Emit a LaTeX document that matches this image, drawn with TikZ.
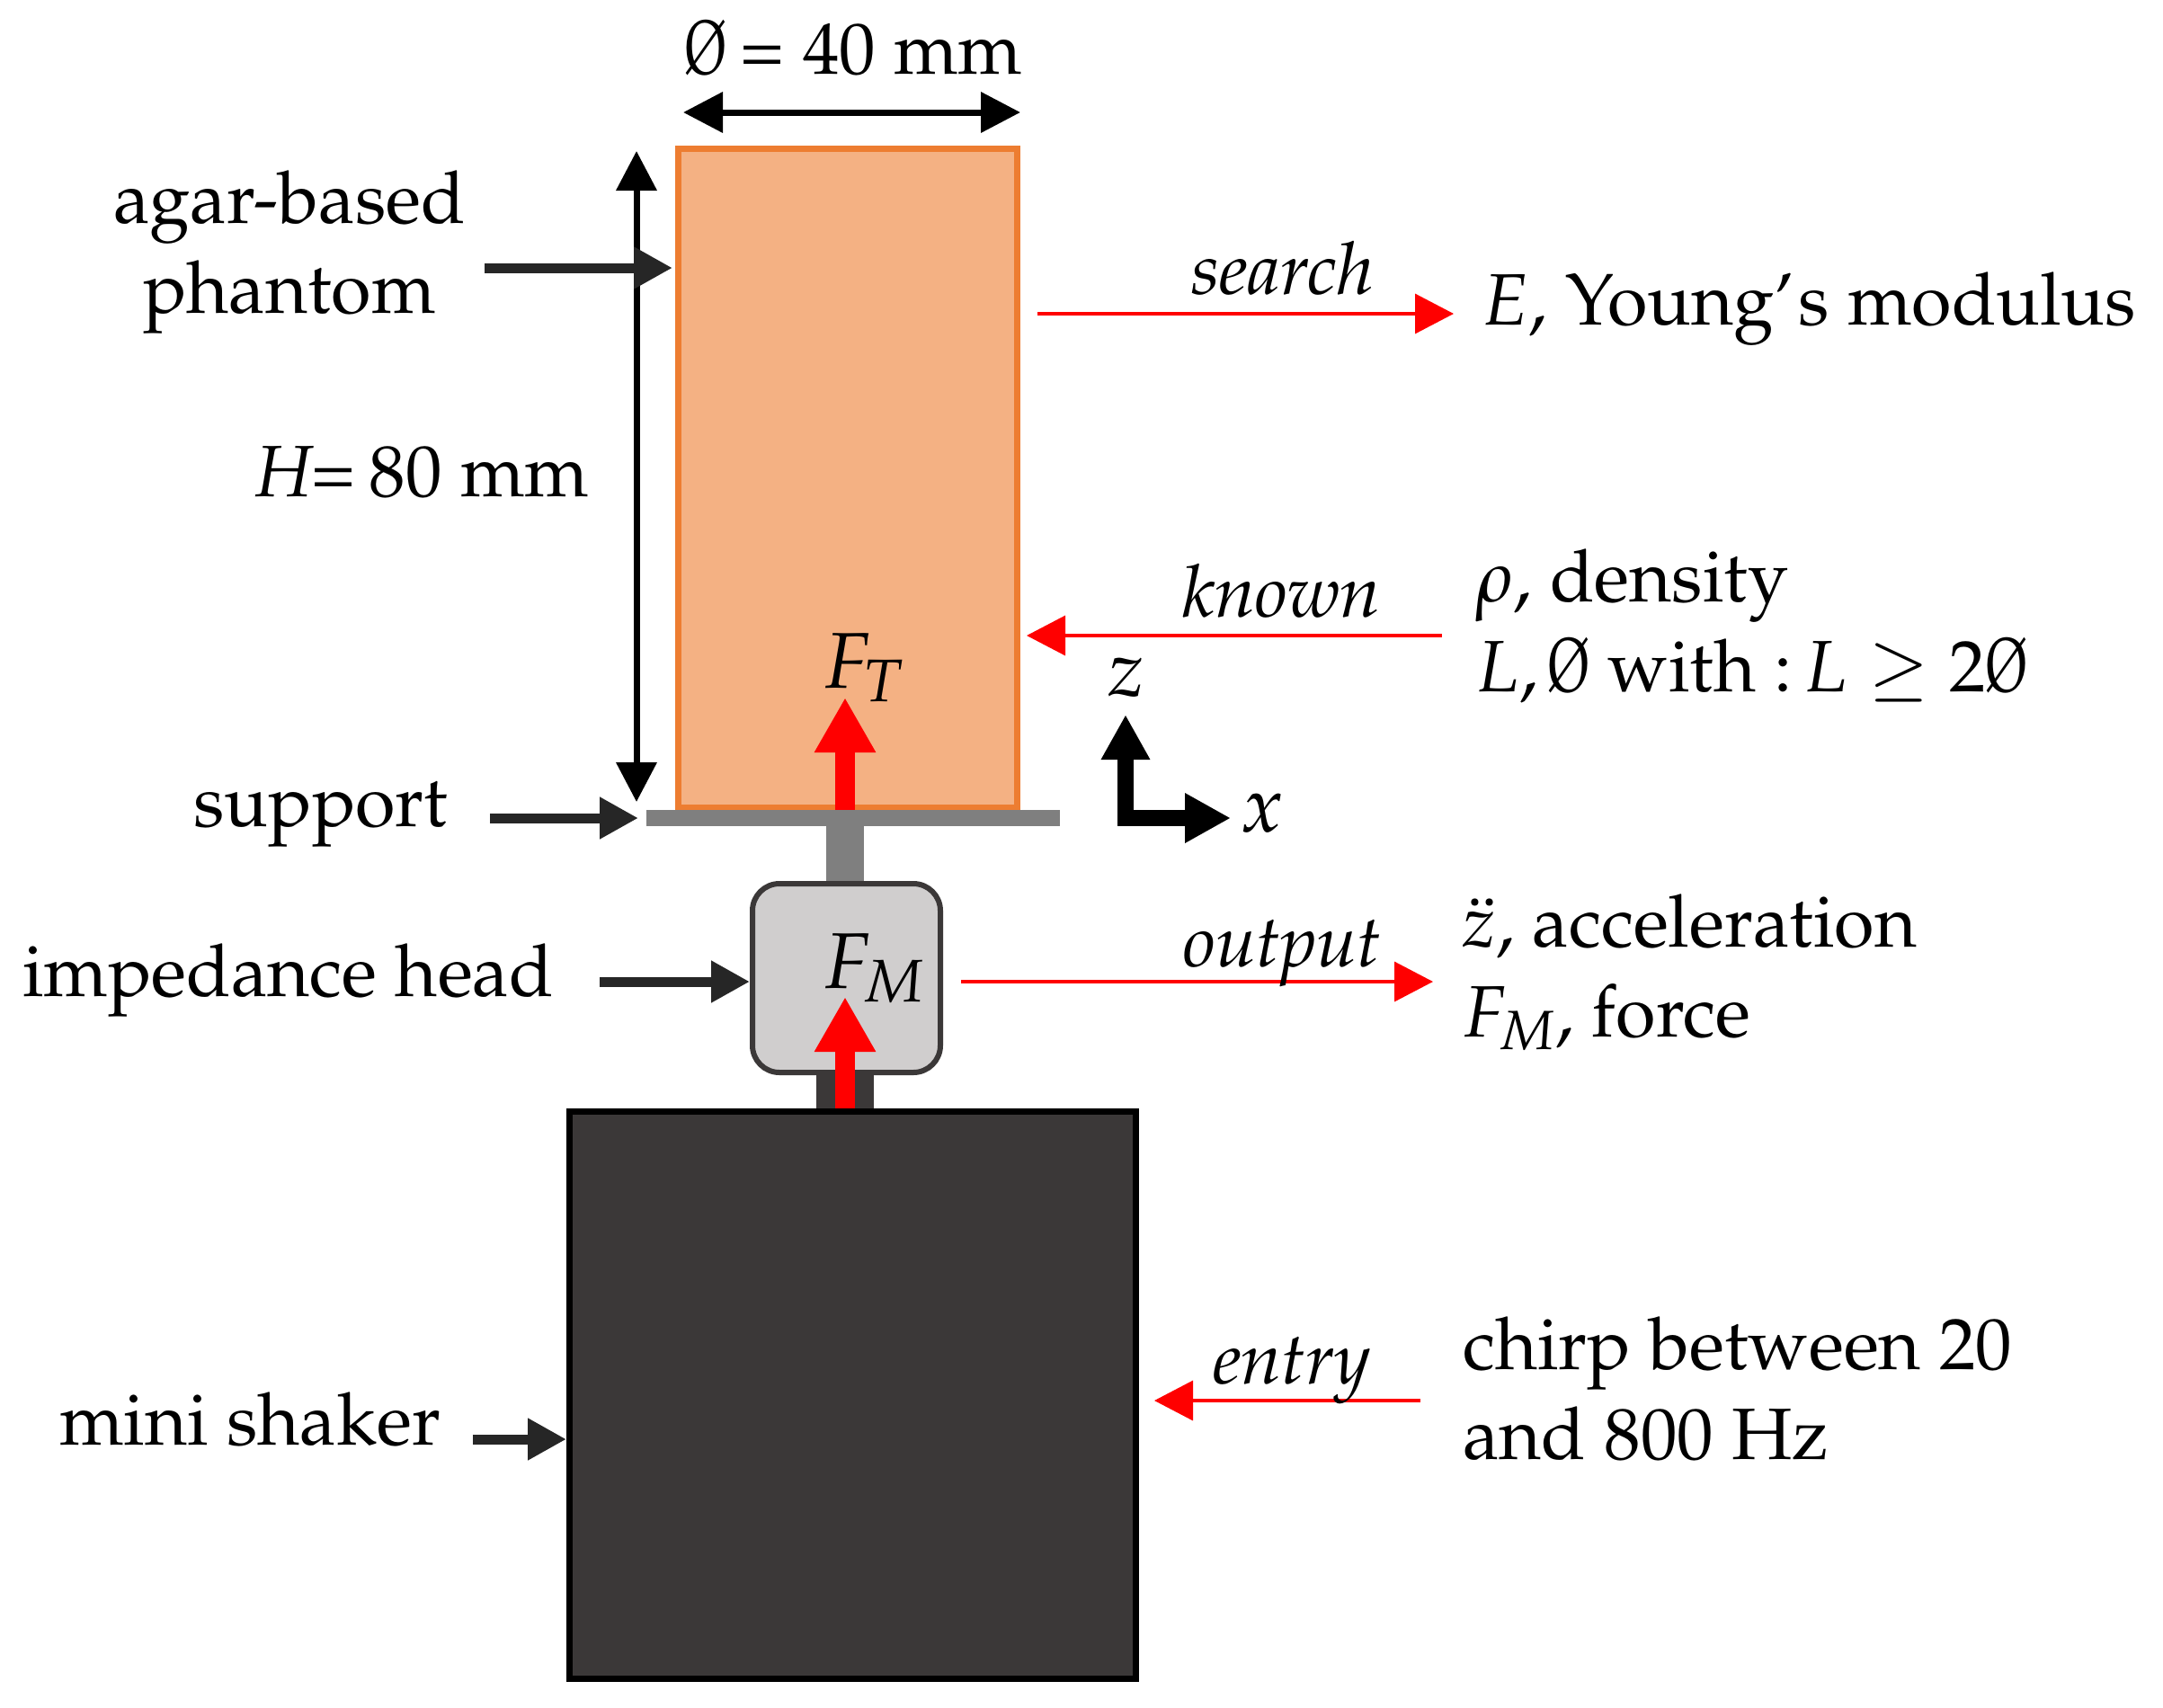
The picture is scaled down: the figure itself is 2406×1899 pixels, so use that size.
\documentclass[tikz,border=0pt]{standalone}
\usepackage[T1]{fontenc}
\usepackage{mathpazo}
\usepackage{amsmath}
\usetikzlibrary{arrows.meta}
\definecolor{phantomFill}{HTML}{F4B183}
\definecolor{phantomLine}{HTML}{ED7D31}
\definecolor{headFill}{HTML}{D0CECE}
\definecolor{darkGrey}{HTML}{3B3838}
\definecolor{supportGrey}{HTML}{7F7F7F}
\newcommand{\Dia}{\scalebox{0.7}[1.05]{\O}}

\begin{document}
\begin{tikzpicture}[
        x=1pt,y=-1pt,
        font=\fontsize{81}{100}\selectfont,
        BlockCfg/.style={anchor=north west,inner sep=0pt},
        TextCfg/.style={anchor=base west,inner sep=0pt,align=left},
        MathCfg/.style={TextCfg,font=\fontsize{88}{100}\selectfont},
        DimArr/.style={draw=black,line width=7pt,{Triangle[length=44pt,width=44pt]}-{Triangle[length=44pt,width=44pt]}},
        NoteArr/.style={draw=black!85,line width=11pt,-{Triangle[length=43pt,width=44pt]}},
        RedArr/.style={draw=red,line width=3.5pt,-{Triangle[length=43pt,width=44pt]}},
        ForceArr/.style={draw=red,line width=22pt,-{Triangle[length=61pt,width=64pt]}},
        AxisArr/.style={draw=black,line width=17.5pt,miter limit=4,{Triangle[length=50pt,width=51pt]}-{Triangle[length=51pt,width=52pt]}}
    ]
    \useasboundingbox (0,0) rectangle (2406,1899);

    %stems behind the blocks
    \node[BlockCfg,fill=supportGrey,minimum width=42pt,minimum height=62pt] (stemTop) at (919,919) {};
    \node[BlockCfg,fill=darkGrey,minimum width=64pt,minimum height=40pt] (stemLow) at (908,1195) {};

    %phantom, support, head, shaker
    \node[BlockCfg,draw=phantomLine,fill=phantomFill,line width=7pt,minimum width=377pt,minimum height=733pt] (phantom) at (751,162) {};
    \node[BlockCfg,fill=supportGrey,minimum width=460pt,minimum height=18pt] (support) at (719,901) {};
    \node[BlockCfg,draw=darkGrey,fill=headFill,line width=6pt,rounded corners=30pt,minimum width=209pt,minimum height=210pt] (head) at (834,980) {};
    \node[BlockCfg,draw=black,fill=darkGrey,line width=7pt,minimum width=630pt,minimum height=631pt] (shaker) at (630,1233) {};

    %dimensions
    \node[TextCfg] (diaText) at (761,82) {\Dia{}\kern-5pt\ = 40 mm};
    \coordinate (diaL) at (760,125);
    \coordinate (diaR) at (1135,125);
    \draw[DimArr] (diaL)--(diaR);
    \node[TextCfg] (heightText) at (280,552) {$H$\kern-4pt=\kern-5pt\ 80 mm};
    \coordinate (heightT) at (708,168);
    \coordinate (heightB) at (708,892);
    \draw[DimArr] (heightT)--(heightB);

    %left labels
    \node[TextCfg,align=center] (phantomText) at (126,348) {agar-based\\phantom};
    \coordinate (phantomFrom) at (539,298);
    \draw[NoteArr,shorten >=3pt] (phantomFrom)--(phantomFrom-|phantom.west);
    \node[TextCfg] (supportText) at (215,919) {support};
    \coordinate (supportFrom) at (545,910);
    \draw[NoteArr,shorten >=9pt] (supportFrom)--(supportFrom-|support.west);
    \node[TextCfg] (headText) at (25,1108) {impedance head};
    \coordinate (headFrom) at (667,1092);
    \draw[NoteArr] (headFrom)--(headFrom-|head.west);
    \node[TextCfg] (shakerText) at (66,1607) {mini shaker};
    \coordinate (shakerFrom) at (526,1601);
    \draw[NoteArr] (shakerFrom)--(shakerFrom-|shaker.west);

    %forces
    \coordinate (forceT) at (940,776);
    \coordinate (forceM) at (940,1109);
    \draw[ForceArr] (support.north-|forceT)--(forceT);
    \draw[ForceArr] (shaker.north-|forceM)--(forceM);
    \node[MathCfg] (forceTText) at (915,765) {$F_T$};
    \node[MathCfg] (forceMText) at (915,1099) {$F_M$};

    %axes
    \coordinate (zTip) at (1252,795);
    \coordinate (origin) at (1252,910);
    \coordinate (xTip) at (1369,910);
    \draw[AxisArr] (zTip)--(origin)--(xTip);
    \node[MathCfg] (zText) at (1232,774) {$z$};
    \node[MathCfg] (xText) at (1380,925) {$x$};

    %right side
    \coordinate (searchTo) at (1617,349);
    \draw[RedArr,shorten <=19pt] (phantom.east|-searchTo)--(searchTo);
    \node[TextCfg] (searchText) at (1325,327) {\textit{search}};
    \node[TextCfg] (searchRes) at (1648,361) {$E$, Young'\kern5pt s modulus};

    \coordinate (knownFrom) at (1604,707);
    \draw[RedArr,shorten >=7pt] (knownFrom)--(knownFrom-|phantom.east);
    \node[TextCfg] (knownText) at (1315,686) {\textit{known}};
    \node[TextCfg] (knownRes) at (1641,769) {$\rho$, density\\$L$,\kern-10pt\ \Dia{} with :\kern-8pt\ $L\geq 2$\Dia};

    \coordinate (outputTo) at (1594,1092);
    \draw[RedArr,shorten <=20pt] (head.east|-outputTo)--(outputTo);
    \node[TextCfg] (outputText) at (1316,1075) {\textit{output}};
    \node[TextCfg] (outputRes) at (1626,1153) {$\ddot{z}$, acceleration\\$F_M$, force};

    \coordinate (entryFrom) at (1580,1558);
    \draw[RedArr,shorten >=17pt] (entryFrom)--(entryFrom-|shaker.east);
    \node[TextCfg] (entryText) at (1349,1539) {\textit{entry}};
    \node[TextCfg] (entryRes) at (1627,1623) {chirp between 20\\and 800 Hz};
\end{tikzpicture}
\end{document}
